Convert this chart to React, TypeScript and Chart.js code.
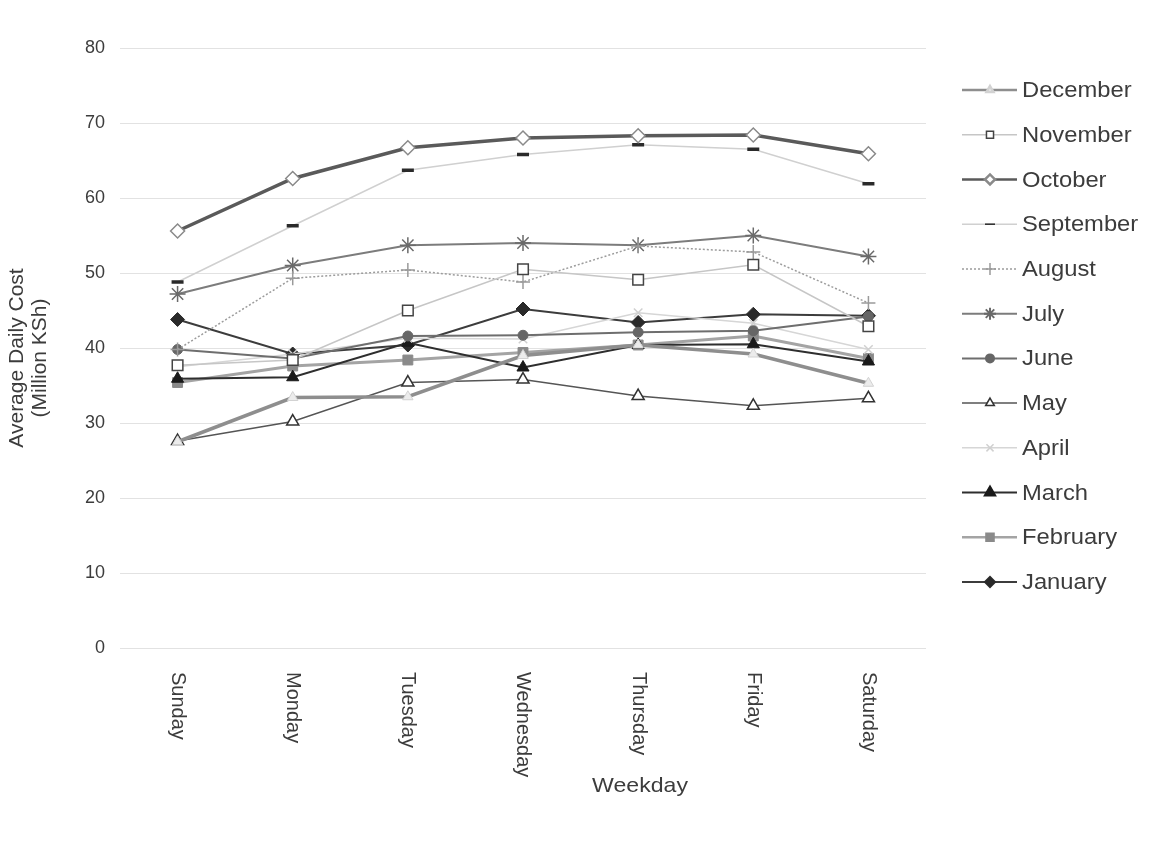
import React, { useEffect, useRef } from 'react';
import { Chart, registerables } from 'chart.js';
import { drawPoint } from 'chart.js/helpers';

Chart.register(...registerables);

// Category axis
const weekdays = ['Sunday', 'Monday', 'Tuesday', 'Wednesday', 'Thursday', 'Friday', 'Saturday'];
const yMin = 0;
const yMax = 80;
const yStep = 10;

// Average daily cost per weekday, million KSh
const december = [27.5, 33.4, 33.5, 39.0, 40.4, 39.2, 35.3];
const november = [37.7, 38.4, 45.0, 50.5, 49.1, 51.1, 42.9];
const october = [55.6, 62.6, 66.7, 68.0, 68.3, 68.4, 65.9];
const september = [48.8, 56.3, 63.7, 65.8, 67.1, 66.5, 61.9];
const august = [39.8, 49.3, 50.4, 48.8, 53.6, 52.8, 46.0];
const july = [47.2, 51.0, 53.7, 54.0, 53.7, 55.0, 52.2];
const june = [39.8, 38.6, 41.6, 41.7, 42.1, 42.3, 44.2];
const may = [27.6, 30.2, 35.4, 35.8, 33.6, 32.3, 33.3];
const april = [37.5, 39.2, 41.3, 41.2, 44.7, 43.3, 39.8];
const march = [35.9, 36.1, 40.7, 37.4, 40.4, 40.5, 38.2];
const february = [35.4, 37.6, 38.4, 39.4, 40.4, 41.6, 38.6];
const january = [43.8, 39.2, 40.4, 45.2, 43.4, 44.5, 44.3];

type SeriesStyle = {
  label: string;
  data: number[];
  line: string;
  width: number;
  dash?: number[];
  point: string;
  bg: string;
  border: string;
  pbw: number;
  radius: number;
  legendRadius: number;
};

const series: SeriesStyle[] = [
  { label: 'December', data: december, line: '#8e8e8e', width: 3.5, point: 'triangle', bg: '#ececec', border: '#d2d2d2', pbw: 1, radius: 6, legendRadius: 4 },
  { label: 'November', data: november, line: '#c6c6c6', width: 1.5, point: 'rect', bg: '#ffffff', border: '#444444', pbw: 1.5, radius: 7.5, legendRadius: 5 },
  { label: 'October', data: october, line: '#5a5a5a', width: 3.5, point: 'rectRot', bg: '#ffffff', border: '#8a8a8a', pbw: 1.5, radius: 7, legendRadius: 5 },
  { label: 'September', data: september, line: '#d0d0d0', width: 1.5, point: 'line', bg: '#2a2a2a', border: '#2a2a2a', pbw: 3.5, radius: 6, legendRadius: 5 },
  { label: 'August', data: august, line: '#9c9c9c', width: 1.5, dash: [2, 2], point: 'cross', bg: '#9a9a9a', border: '#9a9a9a', pbw: 1.5, radius: 7, legendRadius: 6 },
  { label: 'July', data: july, line: '#7c7c7c', width: 2, point: 'star', bg: '#6a6a6a', border: '#6a6a6a', pbw: 1.5, radius: 8, legendRadius: 6 },
  { label: 'June', data: june, line: '#6e6e6e', width: 2, point: 'circle', bg: '#666666', border: '#666666', pbw: 1, radius: 5, legendRadius: 4 },
  { label: 'May', data: may, line: '#555555', width: 1.5, point: 'triangle', bg: '#ffffff', border: '#333333', pbw: 1.5, radius: 7, legendRadius: 5 },
  { label: 'April', data: april, line: '#d6d6d6', width: 1.5, point: 'crossRot', bg: '#d0d0d0', border: '#d0d0d0', pbw: 1.5, radius: 6, legendRadius: 5 },
  { label: 'March', data: march, line: '#2e2e2e', width: 2, point: 'triangle', bg: '#1a1a1a', border: '#1a1a1a', pbw: 1, radius: 7, legendRadius: 6 },
  { label: 'February', data: february, line: '#a4a4a4', width: 3, point: 'rect', bg: '#8a8a8a', border: '#8a8a8a', pbw: 1, radius: 7, legendRadius: 5 },
  { label: 'January', data: january, line: '#3c3c3c', width: 2, point: 'rectRot', bg: '#2a2a2a', border: '#2a2a2a', pbw: 1, radius: 7, legendRadius: 5 },
];

const FONT = '"Liberation Sans", Arial, sans-serif';
const TEXT = '#3c3c3c';

// Side legend, rotated category labels and axis titles drawn on the canvas
const decorPlugin = {
  id: 'decor',
  afterDraw(chart: any) {
    const ctx: CanvasRenderingContext2D = chart.ctx;
    const area = chart.chartArea;
    const xScale = chart.scales.x;

    // Weekday labels, reading top to bottom
    ctx.save();
    ctx.fillStyle = TEXT;
    ctx.font = `20px ${FONT}`;
    ctx.textAlign = 'left';
    ctx.textBaseline = 'middle';
    weekdays.forEach((d, i) => {
      const x = xScale.getPixelForValue(i);
      ctx.save();
      ctx.translate(x, area.bottom + 24);
      ctx.rotate(Math.PI / 2);
      ctx.fillText(d, 0, 0);
      ctx.restore();
    });
    ctx.restore();

    // X axis title
    ctx.save();
    ctx.fillStyle = TEXT;
    ctx.font = `21px ${FONT}`;
    ctx.textAlign = 'center';
    ctx.textBaseline = 'middle';
    ctx.translate(632, 778);
    ctx.scale(1.1, 1);
    ctx.fillText('Weekday', 0, 0);
    ctx.restore();

    // Y axis title, two lines
    ctx.save();
    ctx.fillStyle = TEXT;
    ctx.font = `21px ${FONT}`;
    ctx.textAlign = 'center';
    ctx.textBaseline = 'middle';
    ctx.translate(9, 350);
    ctx.rotate(-Math.PI / 2);
    ctx.fillText('Average Daily Cost', 0, 0);
    ctx.fillText('(Million KSh)', 0, 23);
    ctx.restore();

    // Legend
    series.forEach((s, i) => {
      const y = 82 + i * 44.73;
      ctx.save();
      ctx.strokeStyle = s.line;
      ctx.lineWidth = Math.min(s.width, 2.5);
      ctx.setLineDash(s.dash || []);
      ctx.beginPath();
      ctx.moveTo(954, y);
      ctx.lineTo(1009, y);
      ctx.stroke();
      ctx.setLineDash([]);
      ctx.fillStyle = s.bg;
      ctx.strokeStyle = s.border;
      drawPoint(ctx, { pointStyle: s.point as any, radius: s.legendRadius, borderWidth: s.pbw, rotation: 0 } as any, 982, y);
      ctx.restore();

      ctx.save();
      ctx.fillStyle = TEXT;
      ctx.font = `22px ${FONT}`;
      ctx.textAlign = 'left';
      ctx.textBaseline = 'middle';
      ctx.translate(1014, y + 1);
      ctx.scale(1.08, 1);
      ctx.fillText(s.label, 0, 0);
      ctx.restore();
    });
  },
};

export default function App() {
  const canvasRef = useRef<HTMLCanvasElement | null>(null);

  useEffect(() => {
    if (!canvasRef.current) return;
    const chart = new Chart(canvasRef.current, {
      type: 'line',
      data: {
        labels: weekdays,
        datasets: series.map((s) => ({
          label: s.label,
          data: s.data,
          borderColor: s.line,
          borderWidth: s.width,
          borderDash: s.dash || [],
          backgroundColor: s.bg,
          pointStyle: s.point as any,
          pointBackgroundColor: s.bg,
          pointBorderColor: s.border,
          pointBorderWidth: s.pbw,
          pointRadius: s.radius,
          pointHoverRadius: s.radius,
          tension: 0,
          fill: false,
        })),
      },
      options: {
        responsive: true,
        maintainAspectRatio: false,
        animation: false,
        layout: { padding: { top: 40, right: 223, left: 0, bottom: 0 } },
        plugins: {
          legend: { display: false },
          tooltip: { enabled: false },
          title: { display: false },
        },
        scales: {
          x: {
            type: 'category',
            offset: true,
            grid: { display: false, drawTicks: false },
            border: { display: false },
            ticks: { display: false },
            afterFit: (scale: any) => {
              scale.height = 194;
            },
          },
          y: {
            min: yMin,
            max: yMax,
            grid: { color: '#e2e2e2', lineWidth: 1, drawTicks: false },
            border: { display: false },
            ticks: {
              stepSize: yStep,
              padding: 15,
              color: TEXT,
              font: { family: FONT, size: 18 },
            },
            afterFit: (scale: any) => {
              scale.width = 112;
            },
          },
        },
      },
      plugins: [decorPlugin],
    });
    return () => chart.destroy();
  }, []);

  return (
    <div style={{ width: 1141, height: 834, position: 'relative', background: '#ffffff' }}>
      <canvas ref={canvasRef} />
    </div>
  );
}
